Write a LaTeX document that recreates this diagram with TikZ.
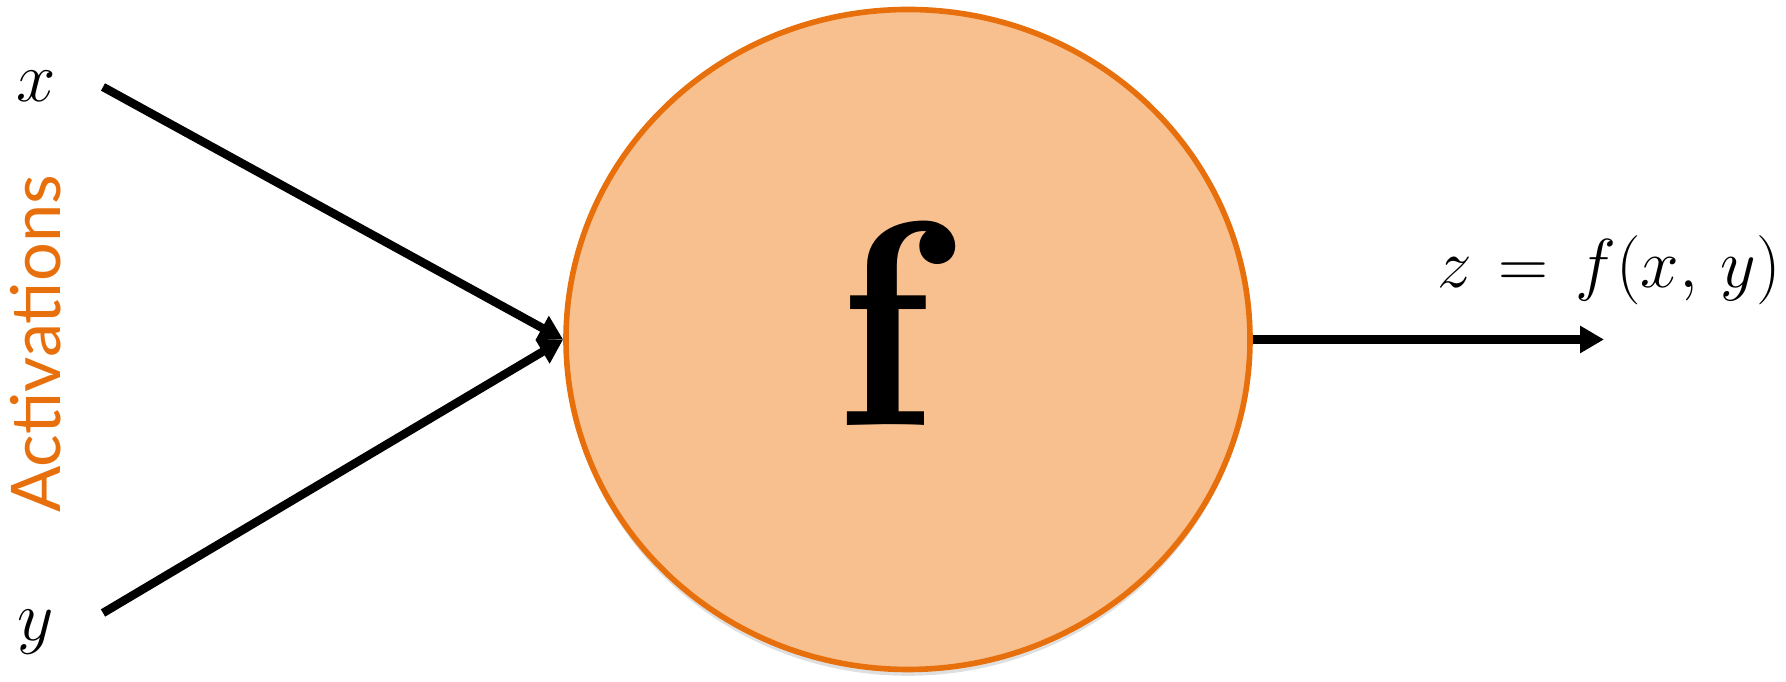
\documentclass[tikz,border=0pt]{standalone}
\usepackage{fontspec}
\newfontfamily\actfont{Lato}
\usetikzlibrary{arrows.meta,shapes.geometric,shadows}
\definecolor{nodefill}{RGB}{249,192,143}
\definecolor{nodeedge}{RGB}{232,112,12}

\begin{document}
\begin{tikzpicture}[>={Triangle[length=0.24cm,width=0.26cm]}, line width=2.4pt]
    \useasboundingbox (0,0) rectangle (17.86,6.82);

    % neuron
    \node[ellipse, draw=nodeedge, fill=nodefill, line width=1.6pt,
          minimum width=6.84cm, minimum height=6.60cm, inner sep=0pt,
          drop shadow={opacity=0.25, shadow xshift=0pt, shadow yshift=-1.8pt}] (f) at (9.08,3.425) {};
    \node[anchor=base, inner sep=0pt, font=\Huge, scale=3.34] (flab) at (8.84,2.56) {$\mathbf{f}$};

    % inputs
    \node[anchor=base, inner sep=0pt, font=\huge, scale=0.97] (x) at (0.36,5.80) {$x$};
    \node[anchor=base, inner sep=0pt, font=\huge, scale=0.97] (y) at (0.36,0.41) {$y$};
    \coordinate (xs) at (1.03,5.95);
    \coordinate (ys) at (1.03,0.69);
    \draw[->] (xs) -- (f.west);
    \draw[->] (ys) -- (f.west);

    \node[rotate=90, anchor=base, inner sep=0pt, text=nodeedge,
          font=\actfont\fontsize{19.5}{22}\selectfont] (act) at (0.60,3.38) {Activations};

    % output
    \coordinate (zs) at (16.04,3.425);
    \draw[->, line width=2.8pt] (f.east) -- (zs);
    \node[anchor=base west, inner sep=0pt, font=\huge, scale=0.95] (z) at (14.33,3.94) {$z \mskip2mu=\mskip2mu f(x,\,y)$};
\end{tikzpicture}
\end{document}
